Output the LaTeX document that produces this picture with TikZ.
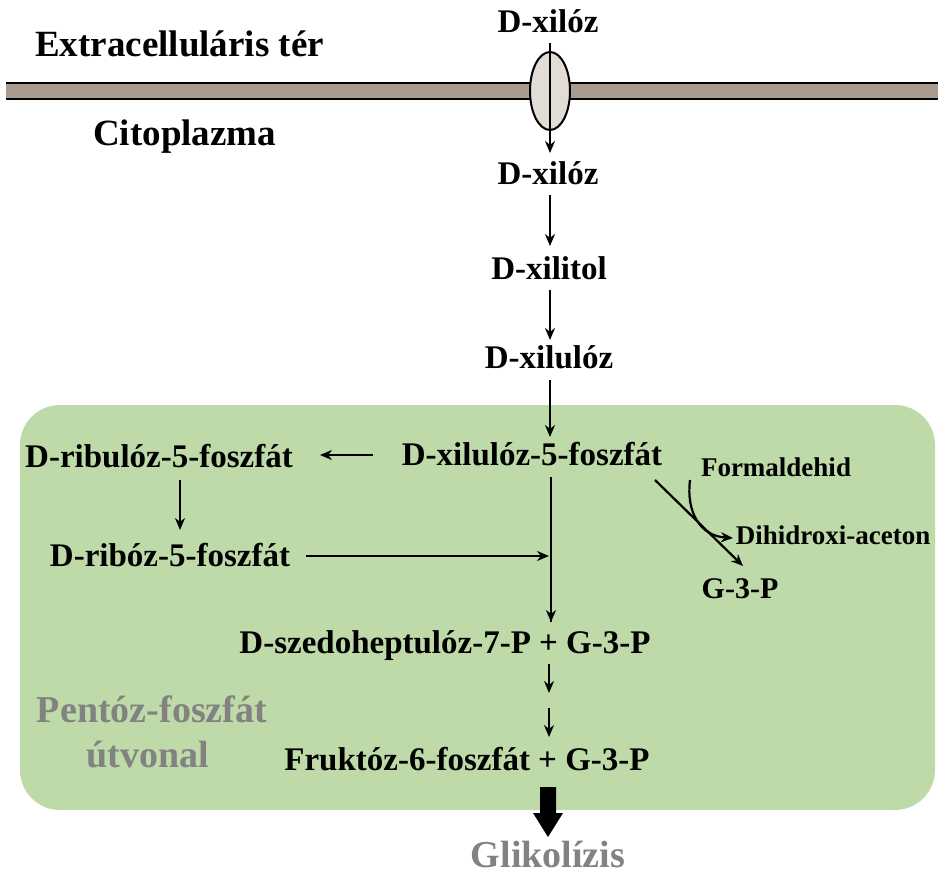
\documentclass[tikz,border=0pt]{standalone}
\usepackage{fontspec}
\setmainfont{Liberation Serif}
\usetikzlibrary{arrows.meta,shapes.geometric}
\definecolor{memb}{RGB}{169,156,143}
\definecolor{chan}{RGB}{226,220,214}
\definecolor{ppp}{RGB}{190,218,168}
\definecolor{graytxt}{RGB}{130,130,130}
\begin{document}
\begin{tikzpicture}[x=1pt,y=-1pt,
  lbl/.style={font=\bfseries\fontsize{33}{33}\selectfont, inner sep=0pt, anchor=base},
  big/.style={font=\bfseries\fontsize{37}{37}\selectfont, inner sep=0pt, anchor=base west},
  small/.style={font=\bfseries\fontsize{27}{27}\selectfont, inner sep=0pt, anchor=base},
  gr/.style={font=\bfseries\fontsize{38}{38}\selectfont, inner sep=0pt, text=graytxt, anchor=base},
  arr/.style={-{Stealth[length=12pt,width=10pt]}, line width=2.2pt}]
\useasboundingbox (0,0) rectangle (938,875);
% green region
\fill[ppp, rounded corners=40pt] (20,405) rectangle (935,810);
% membrane
\fill[memb] (6,83) rectangle (938,99);
\draw[line width=2.6pt] (6,83) -- (938,83);
\draw[line width=2.6pt] (6,99) -- (938,99);
\node[draw, line width=2pt, fill=chan, ellipse, minimum width=40pt, minimum height=78pt, inner sep=0pt] (ch) at (550,91) {};
% texts
\node[big] (ext) at (35,57) {Extracellul\'aris t\'er};
\node[big] (cito) at (93,146) {Citoplazma};
\node[lbl] (x0) at (548,33) {D-xil\'oz};
\node[lbl] (x1) at (548,184) {D-xil\'oz};
\node[lbl] (xt) at (549,279) {D-xilitol};
\node[lbl] (xu) at (549,368) {D-xilul\'oz};
\node[lbl] (x5) at (532,465) {D-xilul\'oz-5-foszf\'at};
\node[lbl] (ru) at (159,467) {D-ribul\'oz-5-foszf\'at};
\node[lbl] (ri) at (170,566) {D-rib\'oz-5-foszf\'at};
\node[lbl] (sed) at (445,653) {D-szedoheptul\'oz-7-P + G-3-P};
\node[lbl] (fru) at (467,770) {Frukt\'oz-6-foszf\'at + G-3-P};
\node[gr] (pp1) at (152,722) {Pent\'oz-foszf\'at};
\node[gr] (pp2) at (148,767) {\'utvonal};
\node[gr] (gl) at (548,867) {Glikol\'izis};
\node[small] (form) at (776,476) {Formaldehid};
\node[small] (dha) at (833,544) {Dihidroxi-aceton};
\node[lbl, font=\bfseries\fontsize{30}{30}\selectfont] (g3) at (740,598) {G-3-P};
% coordinates
\coordinate (tin) at (550,43);
\coordinate (tout) at (550,153);
\coordinate (a1s) at (550,195); \coordinate (a1e) at (550,246);
\coordinate (a2s) at (550,290); \coordinate (a2e) at (550,340);
\coordinate (a3s) at (550,380); \coordinate (a3e) at (550,437);
\coordinate (hs) at (373,455); \coordinate (he) at (320,455);
\coordinate (rs) at (180,480); \coordinate (re) at (180,530);
\coordinate (bs) at (306,556); \coordinate (be) at (549,556);
\coordinate (vs) at (551,477); \coordinate (ve) at (551,622);
\coordinate (d1s) at (549,664); \coordinate (d1e) at (549,693);
\coordinate (d2s) at (549,708); \coordinate (d2e) at (549,737);
\coordinate (gs) at (655,480); \coordinate (ge) at (743,566);
\coordinate (cs) at (690,480); \coordinate (ce) at (733,538);
% arrows
\draw[arr] (tin) -- (tout);
\draw[arr] (a1s) -- (a1e);
\draw[arr] (a2s) -- (a2e);
\draw[arr] (a3s) -- (a3e);
\draw[arr] (hs) -- (he);
\draw[arr] (rs) -- (re);
\draw[arr] (bs) -- (be);
\draw[line width=2.2pt] (vs) -- (ve);
\draw[arr] (551,600) -- (ve);
\draw[arr] (d1s) -- (d1e);
\draw[arr] (d2s) -- (d2e);
\draw[arr] (gs) -- (ge);
\draw[arr] (cs) .. controls (686,512) and (700,536) .. (ce);
% big arrow
\fill (540,787) -- (556,787) -- (556,813) -- (563,813) -- (548,837) -- (533,813) -- (540,813) -- cycle;
\end{tikzpicture}
\end{document}
